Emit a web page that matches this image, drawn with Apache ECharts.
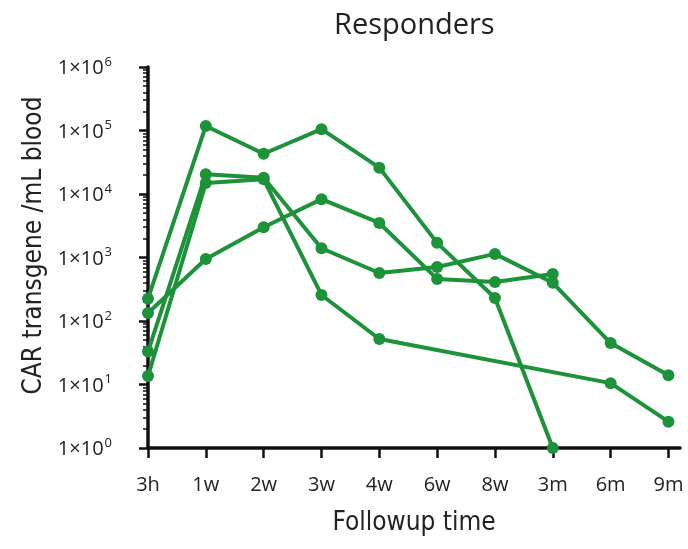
<!DOCTYPE html>
<html>
<head>
<meta charset="utf-8">
<script src="https://cdn.jsdelivr.net/npm/echarts@6/dist/echarts.min.js"></script>
<style>html,body{margin:0;padding:0;background:#fff}#c{width:688px;height:549px}</style>
</head>
<body>
<div id="c"></div>
<script>
const categories = ['3h','1w','2w','3w','4w','6w','8w','3m','6m','9m'];
const patient1 = [225, 118000, 43000, 105000, 26000, 1700, 230, 1, null, null];
const patient2 = [134, 950, 3000, 8300, 3500, 460, 410, 550, null, null];
const patient3 = [33, 20500, 18000, 1400, 570, 710, 1140, 400, 45, 14];
const patient4 = [13.6, 14900, 17000, 257, 52, null, null, null, 10.5, 2.6];
const yTickValues = [1, 10, 100, 1000, 10000, 100000, 1000000];
const minorTickValues = [];
for (let k = 0; k < 6; k++) for (let m = 2; m <= 9; m++) minorTickValues.push(m * Math.pow(10, k));

const GREEN = '#1c9239';
const TXT = '#222';
const COND = "'DejaVu Sans Condensed', 'Roboto', sans-serif";
function toPairs(arr){ const out=[]; arr.forEach((v,i)=>{ if(v!==null) out.push([i,v]); }); return out; }
function mkSeries(arr){
  return {type:'line', data: toPairs(arr), symbol:'circle', symbolSize:12,
    lineStyle:{color:GREEN,width:4}, itemStyle:{color:GREEN}, animation:false, z:3};
}
const chart = echarts.init(document.getElementById('c'));
const idx = categories.map((c,i)=>i);
chart.setOption({
  animation:false,
  title:{text:'Responders', left:329, top:6,
    textStyle:{fontFamily:'Open Sans', fontSize:29, fontWeight:'normal', color:TXT}},
  grid:{left:148, right:8, top:67, bottom:101},
  xAxis:{type:'value', min:0, max:9.2, interval:1,
    name:'Followup time', nameLocation:'middle', nameGap:62,
    nameTextStyle:{fontFamily:COND, fontSize:26, color:TXT},
    axisLine:{lineStyle:{color:'#111', width:3.5}},
    axisTick:{show:true, inside:false, length:10, lineStyle:{color:'#111', width:2.5}, customValues: idx},
    axisLabel:{customValues: idx, margin:27, fontFamily:'Open Sans', fontSize:20, color:TXT,
      formatter: v => categories[Math.round(v)]},
    splitLine:{show:false}},
  yAxis:[{type:'log', logBase:10, min:1, max:1000000,
    name:'CAR transgene /mL blood', nameLocation:'middle', nameGap:100, nameRotate:90,
    nameTextStyle:{fontFamily:COND, fontSize:26, color:TXT, padding:[0,0,0,24]},
    axisLine:{show:true, lineStyle:{color:'#111', width:3.5}},
    axisTick:{show:true, length:9, lineStyle:{color:'#111', width:2.5}, customValues: yTickValues},
    axisLabel:{customValues: yTickValues, margin:36, color:TXT,
      formatter: v => '{b|1×10}{s|' + Math.round(Math.log10(v)) + '}',
      rich:{b:{fontFamily:'Open Sans', fontSize:20, color:TXT, verticalAlign:'bottom'},
            s:{fontFamily:'Open Sans', fontSize:13, color:TXT, verticalAlign:'bottom', padding:[0,0,10,1]}}},
    splitLine:{show:false}},
   {type:'log', logBase:10, min:1, max:1000000, position:'left',
    axisLine:{show:false},
    axisTick:{show:true, length:5, lineStyle:{color:'#111', width:1.5}, customValues: minorTickValues},
    axisLabel:{show:false}, splitLine:{show:false}}],
  series:[mkSeries(patient1), mkSeries(patient2), mkSeries(patient3), mkSeries(patient4)]
});
</script>
</body>
</html>
